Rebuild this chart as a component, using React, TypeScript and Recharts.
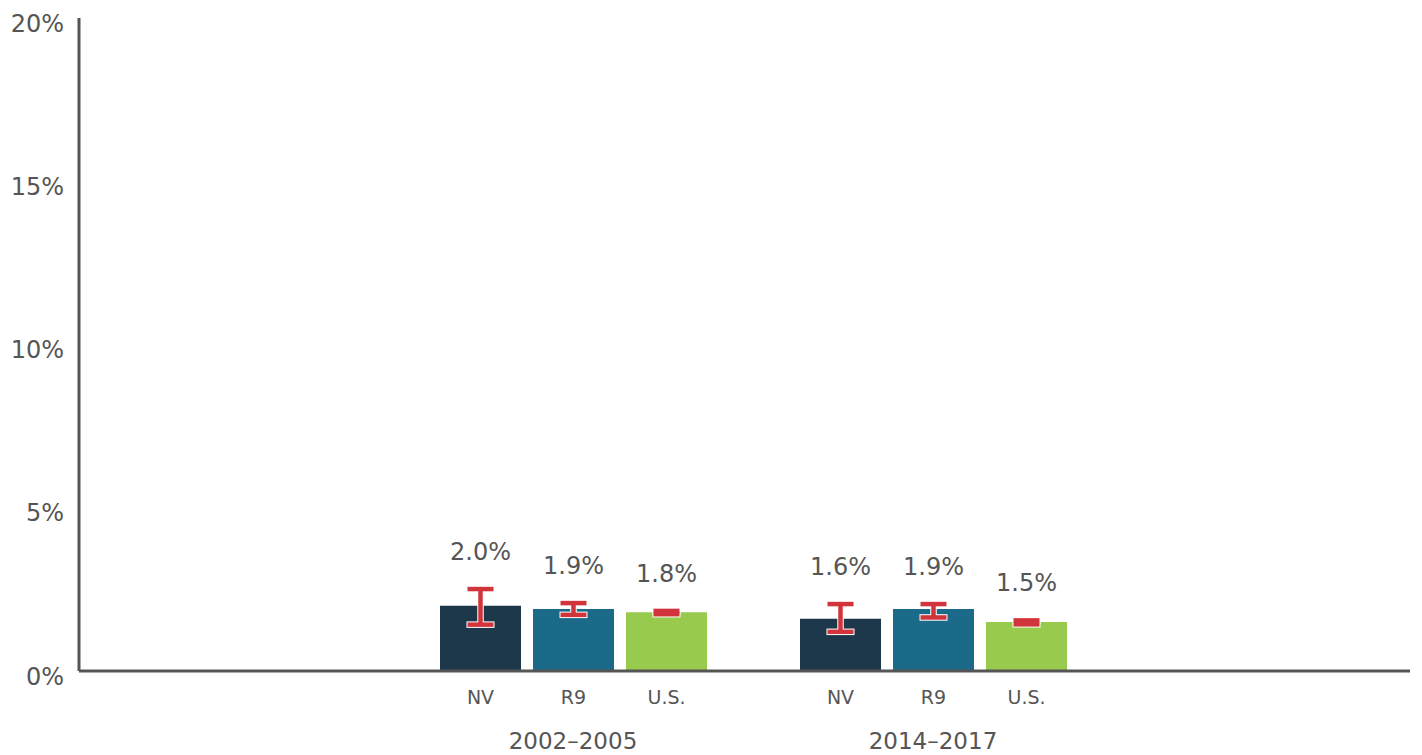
import React from "react";
import { BarChart, Bar, XAxis, YAxis, ErrorBar, LabelList } from "recharts";

const periods = ["2002–2005", "2014–2017"];
const nvValues = [2.0, 1.6];
const r9Values = [1.9, 1.9];
const usValues = [1.8, 1.5];
// confidence interval bounds
const nvLow = [1.42, 1.2];
const nvHigh = [2.51, 2.05];
const r9Low = [1.72, 1.64];
const r9High = [2.08, 2.05];
const usLow = [1.74, 1.43];
const usHigh = [1.84, 1.55];
const yTicks = [0, 5, 10, 15, 20];

const series = [
  { key: "nv", name: "NV", color: "#1e384b", values: nvValues, low: nvLow, high: nvHigh },
  { key: "r9", name: "R9", color: "#1c6a89", values: r9Values, low: r9Low, high: r9High },
  { key: "us", name: "U.S.", color: "#98ca4d", values: usValues, low: usLow, high: usHigh },
];

const data = periods.map((period, i) => {
  const row: Record<string, any> = { period };
  series.forEach((s) => {
    row[s.key] = s.values[i];
    row[s.key + "Err"] = [s.values[i] - s.low[i], s.high[i] - s.values[i]];
  });
  return row;
});

const FONT = "'DejaVu Sans', Verdana, sans-serif";
const TEXT = "#555555";
const AXIS = "#555555";
const RED = "#d1343a";

function valueLabel(high: number[]) {
  return (props: any) => {
    const { x, y, width, height, value, index } = props;
    const perUnit = height / value;
    const top = Math.min(y, y + height - high[index] * perUnit);
    return (
      <text x={x + width / 2} y={top - 29} textAnchor="middle" fill={TEXT} fontSize={24} fontFamily={FONT}>
        {value.toFixed(1)}%
      </text>
    );
  };
}

function nameLabel(name: string) {
  return (props: any) => {
    const { x, y, width, height } = props;
    return (
      <text x={x + width / 2} y={y + height + 33} textAnchor="middle" fill={TEXT} fontSize={19} fontFamily={FONT}>
        {name}
      </text>
    );
  };
}

export default function App() {
  return (
    <div style={{ position: "absolute", left: 0, top: 0, width: 1422, height: 755, background: "#fff" }}>
      <BarChart
        width={1422}
        height={755}
        data={data}
        margin={{ top: 18, right: 12, left: 0, bottom: 0 }}
        barGap={12}
        barSize={81}
      >
        <XAxis
          dataKey="period"
          padding={{ left: 314, right: 297 }}
          height={84}
          tickLine={false}
          tickSize={0}
          tickMargin={62}
          axisLine={{ stroke: AXIS, strokeWidth: 3 }}
          tick={{ fill: TEXT, fontSize: 23, fontFamily: FONT }}
          interval={0}
        />
        <YAxis
          domain={[0, 20]}
          ticks={yTicks}
          width={79}
          tickLine={false}
          tickSize={0}
          tickMargin={15}
          axisLine={{ stroke: AXIS, strokeWidth: 3 }}
          tick={{ fill: TEXT, fontSize: 24, fontFamily: FONT, dy: 5 }}
          tickFormatter={(v) => `${v}%`}
        />
        {series.map((s) => (
          <Bar key={s.key} dataKey={s.key} name={s.name} fill={s.color} isAnimationActive={false}>
            <ErrorBar dataKey={s.key + "Err"} direction="y" width={14} stroke="#ffffff" strokeWidth={6.5} />
            <ErrorBar dataKey={s.key + "Err"} direction="y" width={13} stroke={RED} strokeWidth={4.5} />
            <LabelList dataKey={s.key} content={valueLabel(s.high)} />
            <LabelList dataKey={s.key} content={nameLabel(s.name)} />
          </Bar>
        ))}
      </BarChart>
    </div>
  );
}
